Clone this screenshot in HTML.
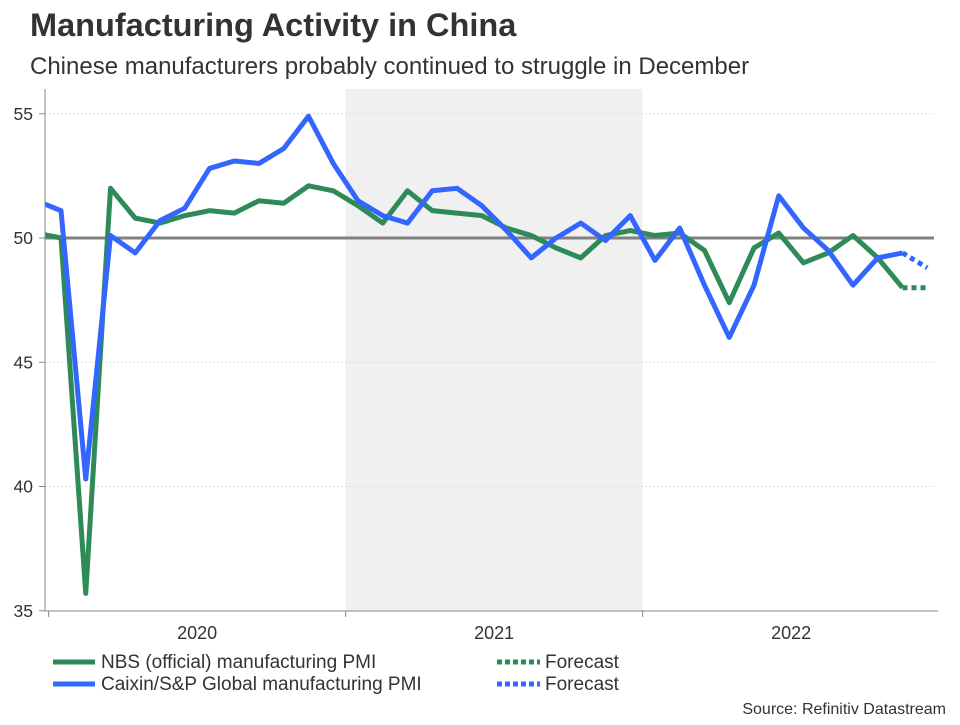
<!DOCTYPE html>
<html><head><meta charset="utf-8"><style>
body{margin:0;background:#fff;font-family:"Liberation Sans",Arial,sans-serif;}
svg text{font-family:"Liberation Sans",Arial,sans-serif;}
</style></head><body>
<svg width="960" height="720" viewBox="0 0 960 720" xmlns="http://www.w3.org/2000/svg">
<text x="30" y="36" font-size="32.5" font-weight="bold" fill="#333">Manufacturing Activity in China</text>
<text x="30" y="74" font-size="24" fill="#333">Chinese manufacturers probably continued to struggle in December</text>
<defs><clipPath id="plot"><rect x="45" y="85" width="893" height="527"/></clipPath></defs>
<g id="grid"></g>
<g id="series" clip-path="url(#plot)"></g>
<g id="axes"></g>
<g>
<line x1="53" y1="662" x2="95" y2="662" stroke="#2e8b57" stroke-width="5"/>
<text x="101" y="668" font-size="19" fill="#333">NBS (official) manufacturing PMI</text>
<line x1="53" y1="684" x2="95" y2="684" stroke="#3366ff" stroke-width="5"/>
<text x="101" y="690" font-size="19" fill="#333">Caixin/S&amp;P Global manufacturing PMI</text>
<line x1="497" y1="662" x2="540" y2="662" stroke="#2e8b57" stroke-width="5" stroke-dasharray="5,3"/>
<text x="545" y="668" font-size="19" fill="#333">Forecast</text>
<line x1="497" y1="684" x2="540" y2="684" stroke="#3366ff" stroke-width="5" stroke-dasharray="5,3"/>
<text x="545" y="690" font-size="19" fill="#333">Forecast</text>
</g>
<text x="946" y="714" font-size="16" fill="#333" text-anchor="end">Source: Refinitiv Datastream</text>
</svg>
<script>
// months from Dec 2019 (index 0) to Nov 2022, plus Dec 2022 forecast
const nbs = [50.2,50.0,35.7,52.0,50.8,50.6,50.9,51.1,51.0,51.5,51.4,52.1,51.9,51.3,50.6,51.9,51.1,51.0,50.9,50.4,50.1,49.6,49.2,50.1,50.3,50.1,50.2,49.5,47.4,49.6,50.2,49.0,49.4,50.1,49.2,48.0];
const caixin = [51.5,51.1,40.3,50.1,49.4,50.7,51.2,52.8,53.1,53.0,53.6,54.9,53.0,51.5,50.9,50.6,51.9,52.0,51.3,50.3,49.2,50.0,50.6,49.9,50.9,49.1,50.4,48.1,46.0,48.1,51.7,50.4,49.5,48.1,49.2,49.4];
const nbsForecast = [48.0];
const caixinForecast = [48.8];
const yTicks = [35,40,45,50,55];
const years = ["2020","2021","2022"];

const NS="http://www.w3.org/2000/svg";
const x = i => 61 + (i-1)*24.75;
const y = v => 238 - (v-50)*24.85;
function mk(tag, attrs, parent){const e=document.createElementNS(NS,tag);for(const k in attrs)e.setAttribute(k,attrs[k]);parent.appendChild(e);return e;}
const grid=document.getElementById('grid'), ser=document.getElementById('series'), ax=document.getElementById('axes');

const shade=mk('rect',{x:x(12.5),y:89,width:x(24.5)-x(12.5),height:611-89,fill:'#f0f0f0'},grid);



yTicks.forEach(t=>{
  if(t!==50 && t!==35){const g=mk('line',{x1:45,x2:934,y1:y(t),y2:y(t),stroke:'#ddd','stroke-width':1,'stroke-dasharray':'2,2'},grid);
  
  }
  const tx=mk('text',{x:33,y:y(t)+6,'font-size':17.5,fill:'#333','text-anchor':'end'},ax);tx.textContent=t;
  
  
  const tk=mk('line',{x1:39,x2:45,y1:y(t),y2:y(t),stroke:'#888'},ax);
  
  
});
const ref=mk('line',{x1:45,x2:934,y1:y(50),y2:y(50),stroke:'#808080','stroke-width':3},grid);



function line(arr, color, name, dash, offset){
  const pts=arr.map((v,i)=>x(i+offset)+','+y(v)).join(' ');
  const p=mk('polyline',{points:pts,fill:'none',stroke:color,'stroke-width':5,'stroke-linejoin':'round'},ser);
  if(dash)p.setAttribute('stroke-dasharray',dash);
  
  
}
line(nbs,'#2e8b57','nbs-line',null,0);
line(caixin,'#3366ff','caixin-line',null,0);
line([nbs[nbs.length-1]].concat(nbsForecast),'#2e8b57','nbs-forecast-line','5,4',nbs.length-1);
line([caixin[caixin.length-1]].concat(caixinForecast),'#3366ff','caixin-forecast-line','5,4',caixin.length-1);

const yl=mk('line',{x1:45,x2:45,y1:89,y2:611,stroke:'#888'},ax);


const xl=mk('line',{x1:45,x2:938,y1:611,y2:611,stroke:'#888'},ax);


years.forEach((yr,k)=>{
  const b=x(k*12+0.5);
  const tk=mk('line',{x1:b,x2:b,y1:611,y2:617,stroke:'#888'},ax);
  
  
  const t=mk('text',{x:x(k*12+6.5),y:639,'font-size':18,fill:'#333','text-anchor':'middle'},ax);t.textContent=yr;
  
  
});
</script>
</body></html>
